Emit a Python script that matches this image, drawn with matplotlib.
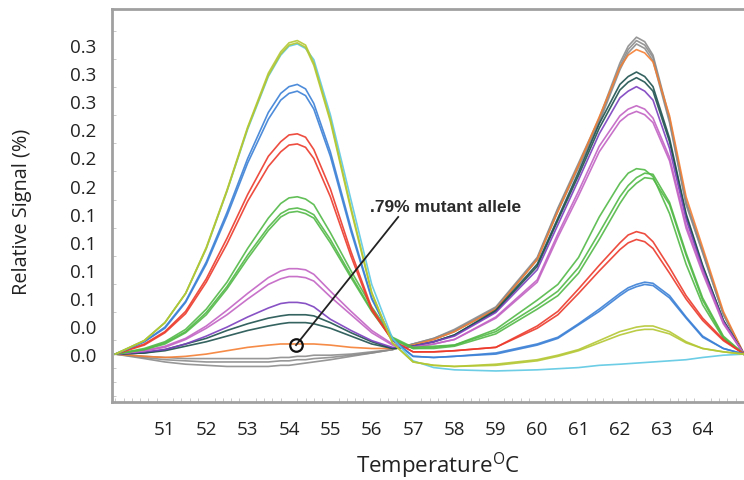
import numpy as np
import matplotlib
matplotlib.use('Agg')
import matplotlib.pyplot as plt

plt.rcParams['font.family'] = ['Open Sans', 'DejaVu Sans']

# temperature grid (deg C), denser near the two melt peaks
temps = [49.8, 50.5, 51.0, 51.5, 52.0, 52.5, 53.0, 53.5, 53.8, 54.0, 54.2, 54.4, 54.6, 55.0, 55.5, 56.0, 56.5,
         57.0, 57.5, 58.0, 59.0, 60.0, 60.5, 61.0, 61.5, 62.0, 62.2, 62.4, 62.6, 62.8, 63.2, 63.6, 64.0, 64.5, 65.0]

# curves (relative signal)
gray_1 = [0, -.004, -.007, -.009, -.010, -.011, -.011, -.011, -.010, -.010, -.009, -.008, -.007, -.005, -.002, .001, .004,
          .009, .014, .022, .042, .086, .130, .170, .210, .259, .274, .282, .278, .266, .210, .136, .092, .036, 0]
gray_2 = [0, -.003, -.005, -.006, -.007, -.007, -.007, -.007, -.006, -.006, -.005, -.005, -.004, -.003, -.001, .001, .004,
          .009, .014, .021, .041, .085, .129, .168, .208, .256, .271, .279, .275, .264, .208, .134, .091, .036, 0]
gray_3 = [0, -.002, -.003, -.004, -.004, -.004, -.004, -.004, -.003, -.003, -.002, -.002, -.001, -.001, .000, .002, .004,
          .009, .013, .020, .040, .084, .127, .166, .206, .253, .268, .276, .272, .261, .206, .133, .090, .035, 0]
orange_1 = [0, -.002, -.003, -.002, .000, .003, .006, .008, .009, .009, .009, .009, .009, .008, .006, .005, .005,
            .008, .013, .020, .040, .084, .127, .168, .211, .255, .266, .271, .268, .260, .212, .140, .095, .038, 0]
teal_1 = [0, .001, .004, .009, .014, .021, .027, .032, .034, .035, .035, .035, .034, .028, .019, .011, .005,
          .007, .011, .017, .039, .080, .121, .162, .205, .240, .247, .251, .247, .238, .192, .125, .079, .030, 0]
teal_2 = [0, .001, .003, .007, .011, .016, .021, .025, .027, .028, .028, .028, .027, .023, .016, .009, .005,
          .007, .011, .017, .038, .078, .119, .159, .201, .235, .242, .246, .242, .234, .189, .123, .078, .030, 0]
purple_1 = [0, .002, .004, .009, .016, .024, .033, .041, .045, .046, .046, .045, .042, .031, .021, .012, .006,
            .007, .011, .016, .037, .075, .115, .155, .196, .228, .234, .238, .234, .226, .183, .120, .076, .029, 0]
magenta_1 = [0, .003, .007, .014, .025, .039, .054, .068, .074, .076, .076, .075, .071, .056, .038, .021, .009,
             .006, .009, .013, .033, .066, .107, .145, .185, .212, .218, .221, .218, .210, .175, .115, .074, .028, 0]
magenta_2 = [0, .003, .006, .013, .023, .035, .049, .062, .067, .069, .069, .068, .065, .051, .035, .019, .008,
             .006, .009, .013, .032, .064, .104, .141, .180, .207, .213, .216, .213, .206, .172, .112, .072, .027, 0]
green_1 = [0, .005, .011, .022, .040, .064, .094, .121, .134, .139, .140, .138, .133, .108, .074, .042, .015,
           .006, .007, .008, .022, .048, .062, .086, .122, .152, .161, .165, .164, .158, .125, .080, .044, .014, 0]
green_2 = [0, .004, .010, .020, .037, .060, .088, .113, .125, .129, .130, .128, .124, .102, .070, .039, .014,
           .005, .006, .008, .020, .043, .056, .077, .108, .140, .150, .157, .161, .160, .135, .090, .050, .016, 0]
green_3 = [0, .004, .009, .019, .035, .058, .085, .110, .122, .126, .127, .125, .121, .099, .068, .038, .013,
           .005, .005, .007, .018, .040, .052, .072, .102, .134, .145, .152, .157, .156, .133, .088, .048, .015, 0]
red_1 = [0, .009, .020, .038, .067, .103, .142, .176, .189, .195, .196, .193, .182, .147, .091, .041, .012,
         .002, .002, .003, .006, .025, .038, .058, .079, .099, .106, .109, .107, .100, .077, .052, .032, .013, 0]
red_2 = [0, .008, .019, .036, .064, .098, .136, .167, .180, .186, .187, .184, .174, .140, .087, .039, .012,
         .002, .002, .003, .006, .023, .035, .054, .074, .093, .099, .102, .100, .094, .072, .049, .030, .012, 0]
blue_1 = [0, .011, .024, .047, .082, .126, .174, .215, .232, .238, .240, .236, .223, .180, .112, .050, .013,
          -.002, -.003, -.002, .000, .008, .014, .026, .038, .052, .057, .060, .062, .061, .050, .032, .015, .005, 0]
blue_2 = [0, .011, .023, .046, .080, .123, .170, .209, .226, .232, .234, .230, .218, .176, .109, .049, .013,
          -.002, -.003, -.002, .001, .009, .015, .027, .040, .054, .059, .062, .064, .063, .052, .033, .016, .005, 0]
cyan_1 = [0, .012, .028, .054, .094, .145, .200, .247, .266, .274, .276, .272, .262, .213, .137, .062, .014,
          -.006, -.012, -.014, -.015, -.014, -.013, -.012, -.010, -.009, -.0085, -.008, -.0075, -.007, -.006, -.005,
          -.003, -.001, 0]
yellow_1 = [0, .012, .028, .054, .095, .146, .202, .250, .269, .277, .279, .275, .259, .209, .130, .055, .010,
            -.007, -.010, -.011, -.009, -.005, -.001, .004, .012, .020, .022, .024, .025, .025, .020, .011, .005, .002, 0]
yellow_2 = [0, .012, .028, .054, .094, .145, .201, .248, .267, .275, .277, .273, .257, .207, .128, .054, .010,
            -.007, -.010, -.011, -.010, -.006, -.002, .003, .010, .017, .019, .021, .022, .022, .018, .010, .005, .002, 0]

series = [
    ('#8c8c8c', [gray_1, gray_2, gray_3]),
    ('#f47f33', [orange_1]),
    ('#1e524f', [teal_1, teal_2]),
    ('#7b3fbf', [purple_1]),
    ('#c263c4', [magenta_1, magenta_2]),
    ('#52b947', [green_1, green_2, green_3]),
    ('#ec3a2b', [red_1, red_2]),
    ('#3b80d6', [blue_1, blue_2]),
    ('#5cc8e3', [cyan_1]),
    ('#b4c733', [yellow_1, yellow_2]),
]

ytick_vals = [0, 0.025, 0.05, 0.075, 0.1, 0.125, 0.15, 0.175, 0.2, 0.225, 0.25, 0.275]
ytick_text = ['0.0', '0.0', '0.1', '0.1', '0.1', '0.1', '0.2', '0.2', '0.2', '0.3', '0.3', '0.3']
xtick_vals = [51, 52, 53, 54, 55, 56, 57, 58, 59, 60, 61, 62, 63, 64]

# annotation: circled curve and label
note_pt = (54.17, 0.008)
note_end = (56.64, 0.122)
note_txt = (55.95, 0.131)

fig = plt.figure(figsize=(7.44, 4.81), dpi=100, facecolor='w')
ax = fig.add_axes([0.1505, 0.162, 0.8495, 0.817])

for col, curves in series:
    for c in curves:
        ax.plot(temps, c, '-', color=col, lw=1.2, alpha=0.9, solid_joinstyle='round')

ax.plot([note_pt[0], note_end[0]], [note_pt[1], note_end[1]], '-', color='#222222', lw=1.3)
ax.plot(note_pt[0], note_pt[1], 'o', mfc='none', mec='#111111', ms=9, mew=1.6)
ax.text(note_txt[0], note_txt[1], '.79% mutant allele', fontsize=12.5, fontweight='bold',
        color='#2a2a2a', va='center', ha='left', family=['Liberation Sans'])

ax.set_xlim(49.72, 65.0)
ax.set_ylim(-0.0427, 0.307)
ax.set_yticks(ytick_vals)
ax.set_yticklabels(ytick_text)
ax.set_yticks(np.arange(-0.0375, 0.3, 0.0125), minor=True)
ax.set_xticks(xtick_vals)
ax.set_xticks(np.arange(49.8, 65.0, 0.2), minor=True)
ax.tick_params(axis='both', which='major', labelsize=13.5, length=0, colors='#222222')
ax.tick_params(axis='y', pad=11)
ax.tick_params(axis='x', pad=13)
ax.tick_params(axis='both', which='minor', direction='in', length=3, color='#c0c0c0')

for s in ['left', 'top', 'bottom']:
    ax.spines[s].set_color('#a0a0a0')
    ax.spines[s].set_linewidth(2)
ax.spines['right'].set_visible(False)

ax.set_ylabel('Relative Signal (%)', fontsize=14.3, color='#222222')
ax.set_xlabel(r'Temperature$^{\mathregular{O}}$C', fontsize=16, color='#222222')
ax.yaxis.set_label_coords(-0.127, 0.486)
ax.xaxis.set_label_coords(0.516, -0.122)

plt.savefig('out.png', dpi=100)
